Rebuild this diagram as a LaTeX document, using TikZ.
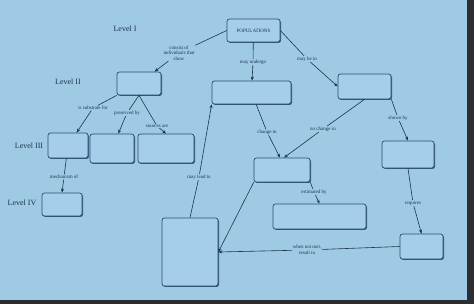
\documentclass[tikz,border=0pt]{standalone}
\usepackage{fontspec}
\setmainfont{Liberation Serif}
\usetikzlibrary{positioning, arrows.meta, shadows}
\definecolor{screen}{HTML}{9FCAE4}
\definecolor{boxfill}{HTML}{A4CEEA}
\definecolor{boxline}{HTML}{2C4D70}
\definecolor{ink}{HTML}{1D3452}
\definecolor{frame}{HTML}{2A2E33}

\begin{document}
\begin{tikzpicture}[x=1pt, y=1pt,
    cbox/.style 2 args={draw=boxline, fill=boxfill, line width=0.7pt, rounded corners=2.5pt,
      minimum width=#1pt, minimum height=#2pt, inner sep=0pt,
      drop shadow={shadow xshift=1pt, shadow yshift=-1pt, fill=boxline, opacity=0.9}},
    lbl/.style={fill=screen, text=ink, inner sep=0.6pt, align=center,
      font=\fontsize{5}{5.6}\selectfont},
    level/.style={text=ink, font=\fontsize{8}{9}\selectfont},
    wire/.style={draw=ink, line width=0.6pt},
    tip/.style={-{Stealth[length=4pt,width=3pt]}}]
       \useasboundingbox (0,0) rectangle (474,-304);
       \fill[screen] (0,0) rectangle (474,-304);
       \fill[frame] (467,0) rectangle (474,-304);
       \fill[frame] (0,-300) rectangle (474,-304);

       % level marks
       \node[level] (lvl1) at (125,-29) {Level I};
       \node[level] (lvl2) at (68,-82) {Level II};
       \node[level] (lvl3) at (29,-146) {Level III};
       \node[level] (lvl4) at (22,-203) {Level IV};

       % concept boxes
       \node[cbox={53}{23}, font=\fontsize{5}{6}\selectfont, text=ink] (pop) at (253.5,-30.5) {POPULATIONS};
       \node[cbox={44}{23}] (sub) at (139,-83.5) {};
       \node[cbox={40}{25}] (lvA) at (68,-145.5) {};
       \node[cbox={44}{29}] (lvB) at (112,-148.5) {};
       \node[cbox={56}{29}] (lvC) at (166,-148.5) {};
       \node[cbox={40}{23}] (lvD) at (62,-204.5) {};
       \node[cbox={56}{68}] (big) at (190,-252) {};
       \node[cbox={79}{23}] (undergo) at (251.5,-92.5) {};
       \node[cbox={53}{25}] (bein) at (364.5,-86.5) {};
       \node[cbox={56}{24}] (chg) at (282,-170) {};
       \node[cbox={52}{27}] (shown) at (408,-154.5) {};
       \node[cbox={93}{25}] (est) at (319.5,-216.5) {};
       \node[cbox={43}{25}] (req) at (421.5,-246.5) {};

       % linking phrases
       \node[lbl] (l-consist) at (179,-53) {consist of\\individuals that\\show};
       \node[lbl] (l-undergo) at (253,-62) {may undergo};
       \node[lbl] (l-bein) at (307,-59) {may be in};
       \node[lbl] (l-subs) at (93,-108) {is substrate for};
       \node[lbl] (l-pres) at (127,-113) {preserved by};
       \node[lbl] (l-src) at (157,-126) {sources are};
       \node[lbl] (l-mech) at (64,-177) {mechanism of};
       \node[lbl] (l-lead) at (199,-177) {may lead to};
       \node[lbl] (l-chg) at (267,-132) {change in};
       \node[lbl] (l-nochg) at (323,-129) {no change in};
       \node[lbl] (l-shown) at (398,-118) {shown by};
       \node[lbl] (l-est) at (314,-192) {estimated by};
       \node[lbl] (l-req) at (413,-203) {requires};
       \node[lbl] (l-met) at (307,-250) {when not met,\\result in};

       \path[wire]
       (pop.west) edge (l-consist)
       (l-consist) edge[tip] (sub)
       (pop) edge (l-undergo)
       (l-undergo) edge[tip] (undergo)
       (pop.east) edge (l-bein)
       (l-bein) edge[tip] (bein.west)

       (sub) edge (l-subs)
       (l-subs) edge[tip] (lvA)
       (sub.south) edge (l-pres)
       (l-pres) edge[tip] (lvB)
       (sub.south) edge (l-src)
       (l-src) edge[tip] (lvC.north)
       (lvA) edge (l-mech)
       (l-mech) edge[tip] (lvD.north)

       (big.north) edge (l-lead)
       (l-lead) edge[tip] (undergo.south west)
       (undergo) edge (l-chg)
       (l-chg) edge[tip] ([xshift=-2pt]chg.north)
       (bein.south) edge (l-nochg)
       (l-nochg) edge[tip] ([xshift=2pt]chg.north)
       (bein.south east) edge (l-shown)
       (l-shown) edge[tip] (shown.north)

       (chg.south east) edge (l-est)
       (l-est) edge[tip] (est.north)
       (chg.south west) edge[tip] (big.east)
       (shown.south) edge (l-req)
       (l-req) edge[tip] (req.north)
       (req.west) edge (l-met)
       (l-met) edge[tip] (big.east);
\end{tikzpicture}
\end{document}
